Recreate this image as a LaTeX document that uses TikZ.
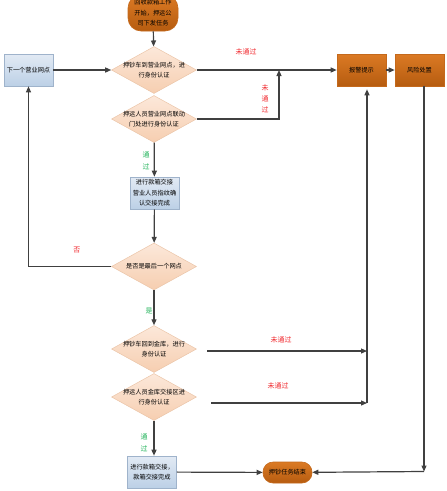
\documentclass[tikz,border=0pt]{standalone}
\usepackage{fontspec}
\setmainfont{Noto Sans CJK SC}
\usetikzlibrary{shapes.geometric,arrows.meta,calc}
\definecolor{diaT}{HTML}{FCE8DA}
\definecolor{diaB}{HTML}{F6CEB0}
\definecolor{diaD}{HTML}{EBC5A8}
\definecolor{bluT}{HTML}{E2EAF4}
\definecolor{bluB}{HTML}{BCD0E6}
\definecolor{bluD}{HTML}{9FB3CB}
\definecolor{orT}{HTML}{DB7A24}
\definecolor{orB}{HTML}{B65C10}
\definecolor{orD}{HTML}{C4691C}
\definecolor{lineC}{HTML}{404040}
\definecolor{noC}{HTML}{F0282D}
\definecolor{yesC}{HTML}{22B35A}
\begin{document}
\begin{tikzpicture}[x=1pt,y=-1pt,
  font=\fontsize{6.2}{10.5}\selectfont,
  dia/.style={diamond,inner sep=0,minimum width=85pt,minimum height=47pt,
    top color=diaT,bottom color=diaB,draw=diaD,line width=0.5pt},
  bbox/.style={rectangle,inner sep=0,minimum width=49pt,minimum height=32pt,
    top color=bluT,bottom color=bluB,draw=bluD,line width=0.6pt,align=center},
  obox/.style={rectangle,inner sep=0,minimum width=49pt,minimum height=32pt,
    top color=orT,bottom color=orB,draw=orD,line width=0.6pt,align=center},
  txt/.style={align=center,inner sep=0},
  conn/.style={draw=lineC,line width=1.2pt,-{Triangle[length=6pt,width=5pt]}},
  nolab/.style={text=noC,align=center,inner sep=0,font=\fontsize{7}{11}\selectfont},
  yeslab/.style={text=yesC,align=center,inner sep=0,font=\fontsize{7}{11.5}\selectfont}
]
\useasboundingbox (0,0) rectangle (447,491);

% nodes
\node[rectangle,rounded corners=13pt,minimum width=50pt,minimum height=36pt,inner sep=0,
  top color=orT,bottom color=orB,draw=orD,line width=0.6pt,align=center] (start) at (153,13)
  {回收款箱工作\\开始，押运公\\司下发任务};

\node[dia] (d1) at (154,70) {};
\node[txt] (d1t) at (d1) {押钞车到营业网点，进\\行身份认证};
\node[dia] (d2) at (154,119) {};
\node[txt] (d2t) at (d2) {押运人员营业网点联动\\门处进行身份认证};
\node[bbox] (box1) at (154.5,193) {进行款箱交接\\营业人员指纹确\\认交接完成};
\node[dia] (d3) at (154,266.5) {};
\node[txt] (d3t) at (d3) {是否是最后一个网点};
\node[dia] (d4) at (154,349) {};
\node[txt] (d4t) at (d4) {押钞车回到金库，进行\\身份认证};
\node[dia] (d5) at (154,397) {};
\node[txt] (d5t) at (d5) {押运人员金库交接区进\\行身份认证};
\node[bbox] (box2) at (152,472) {进行款箱交接，\\款箱交接完成};
\node[rectangle,rounded corners=10pt,minimum width=49pt,minimum height=21pt,inner sep=0,
  top color=orT,bottom color=orB,draw=orD,line width=0.6pt] (end) at (287.5,472.5) {押钞任务结束};

\node[bbox] (next) at (28.5,70) {下一个营业网点};
\node[obox] (alarm) at (361.5,70) {报警提示};
\node[obox] (risk) at (419.5,70) {风险处置};

% labels
\node[nolab] (l1) at (246,52) {未通过};
\node[nolab] (l2) at (265,99) {未\\通\\过};
\node[yeslab] (l3) at (146,161) {通\\过};
\node[nolab] (l4) at (77,250) {否};
\node[yeslab] (l5) at (149,311) {是};
\node[nolab] (l6) at (281,340) {未通过};
\node[nolab] (l7) at (278,386) {未通过};
\node[yeslab] (l8) at (144,443) {通\\过};

% coordinates
\coordinate (j1) at (279,70);
\coordinate (d4o) at (207,351);
\coordinate (d5o) at (211,403);
\coordinate (j2) at (367,351);
\coordinate (j3) at (367,403);
\coordinate (j4) at (424,471.5);

% connectors
\draw[conn] (start) -- (d1);
\draw[conn] (next) -- (d1);
\draw[conn] (d1) -- (alarm);
\draw[conn] (d2.east) -| (j1);
\draw[conn] (d2) -- (box1);
\draw[conn] (box1) -- (d3);
\draw[conn] (d3.west) -| (next.south);
\draw[conn] (d3) -- (d4);
\draw[conn] (d4o) -- (j2);
\draw[conn] (d5o) -- (j3);
\draw[conn] (j3) -- ($(j3 |- alarm.south)+(0,3)$);
\draw[conn] (alarm) -- (risk);
\draw[conn] (j4 |- risk.south) -- (j4);
\draw[conn] (j4) -- (end);
\draw[conn] (d5.south) -- (d5.south |- box2.north);
\draw[conn] (box2) -- (end);
\end{tikzpicture}
\end{document}
